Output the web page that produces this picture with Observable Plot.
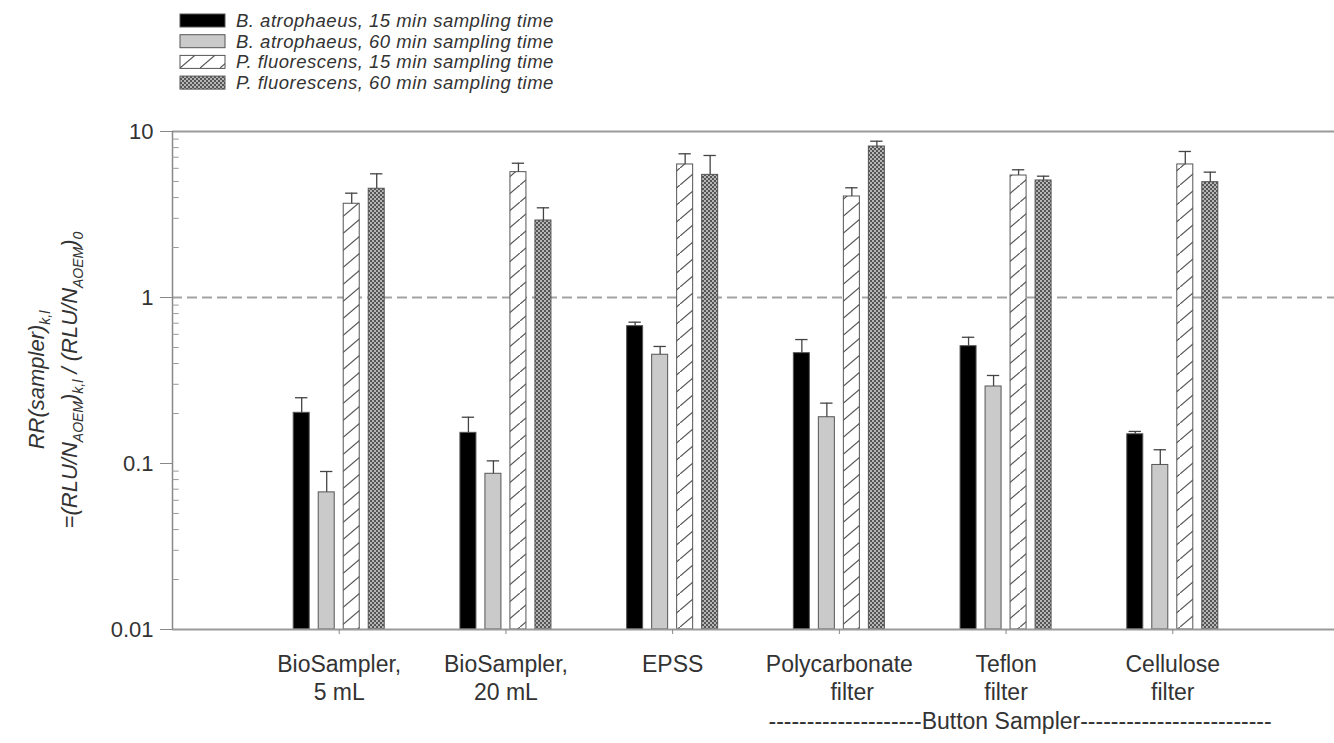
<!DOCTYPE html>
<html>
<head>
<meta charset="utf-8">
<script src="https://cdn.jsdelivr.net/npm/d3@7"></script>
<script src="https://cdn.jsdelivr.net/npm/@observablehq/plot@0.6"></script>
<style>
  body { margin: 0; background: #fff; font-family: "Liberation Sans", Arial, sans-serif; }
  #wrap { position: relative; width: 1334px; height: 743px; overflow: hidden; }
  #legend svg, #chart svg { display: block; }
</style>
</head>
<body>
<svg width="0" height="0" style="position:absolute">
  <defs>
    <pattern id="hatch" patternUnits="userSpaceOnUse" width="20" height="17">
      <rect width="20" height="17" fill="#ffffff"></rect>
      <path d="M-2,18.7 L22,-1.7" stroke="#555" stroke-width="1.2" fill="none"></path>
    </pattern>
    <pattern id="dots" patternUnits="userSpaceOnUse" width="4" height="4">
      <rect width="4" height="4" fill="#555555"></rect>
      <circle cx="1" cy="1" r="0.95" fill="#e0e0e0"></circle>
      <circle cx="3" cy="3" r="0.95" fill="#e0e0e0"></circle>
    </pattern>
  </defs>
</svg>
<div id="wrap">
  <div id="legend"></div>
  <div id="chart"></div>
</div>
<script>
// ---------- data ----------
const groups = ["BioSampler,\n5 mL", "BioSampler,\n20 mL", "EPSS", "Polycarbonate\n\u00a0\u00a0\u00a0\u00a0filter", "Teflon\nfilter", "Cellulose\nfilter"];

const seriesNames = [
  "B. atrophaeus, 15 min sampling time",
  "B. atrophaeus, 60 min sampling time",
  "P. fluorescens, 15 min sampling time",
  "P. fluorescens, 60 min sampling time"
];
const seriesFills = ["#000000", "#cacaca", "url(#hatch)", "url(#dots)"];

const baAt15    = [0.202, 0.153, 0.672, 0.462, 0.509, 0.150];
const baAt15Err = [0.047, 0.037, 0.038, 0.096, 0.067, 0.006];
const baAt60    = [0.067, 0.0867, 0.452, 0.190, 0.291, 0.098];
const baAt60Err = [0.0225, 0.017, 0.055, 0.041, 0.048, 0.023];
const pfl15     = [3.67, 5.69, 6.33, 4.06, 5.43, 6.33];
const pfl15Err  = [0.58, 0.75, 1.01, 0.52, 0.45, 1.25];
const pfl60     = [4.52, 2.91, 5.48, 8.12, 5.07, 4.95];
const pfl60Err  = [1.04, 0.56, 1.69, 0.62, 0.31, 0.74];

const yTicks = [0.01, 0.1, 1, 10];
const yTickLabels = ["0.01", "0.1", "1", "10"];
const refLine = [1];
const groupNote = "--------------------Button Sampler-------------------------";

// ---------- table ----------
const seriesValues = [baAt15, baAt60, pfl15, pfl60];
const seriesErrs = [baAt15Err, baAt60Err, pfl15Err, pfl60Err];
const rows = [];
groups.forEach((g, gi) => {
  seriesNames.forEach((s, si) => {
    rows.push({group: g, gi: gi + 1, series: s, si, value: seriesValues[si][gi], err: seriesErrs[si][gi]});
  });
});
const minorTicks = [];
[0.01, 0.1, 1].forEach(dec => { for (let k = 2; k <= 9; k++) minorTicks.push(+(dec * k).toPrecision(3)); });

// layout (x units = group index)
const pitch = 0.15, half = 0.048, capHalf = 0.037;
const cx = d => d.gi + (d.si - 1.5) * pitch;
const hi = d => d.value + d.err;

const FONT = "Liberation Sans, Arial, Helvetica, sans-serif";

const plot = Plot.plot({
  width: 1334,
  height: 643,
  marginLeft: 172,
  marginRight: 0,
  marginTop: 31,
  marginBottom: 114,
  x: {domain: [0, 6.97]},
  y: {type: "log", domain: [0.01, 10]},
  color: {domain: seriesNames, range: seriesFills},
  style: {fontFamily: FONT, color: "#333", background: "white", overflow: "visible"},
  marks: [
    Plot.ruleY(refLine, {stroke: "#a3a3a3", strokeWidth: 2, strokeDasharray: "10,5"}),
    Plot.rectY(rows, {
      x1: d => cx(d) - half, x2: d => cx(d) + half,
      y1: 0.01, y2: "value",
      fill: "series", stroke: "#555", strokeWidth: 1
    }),
    Plot.ruleX(rows, {x: cx, y1: "value", y2: hi, stroke: "#444", strokeWidth: 1.3}),
    Plot.ruleY(rows, {y: hi, x1: d => cx(d) - capHalf, x2: d => cx(d) + capHalf, stroke: "#444", strokeWidth: 1.3}),
    Plot.ruleY([0.01, 10], {stroke: "#9a9a9a", strokeWidth: 2}),
    Plot.ruleX([0], {y1: 0.01, y2: 10, stroke: "#888", strokeWidth: 1.5}),
    Plot.ruleY(minorTicks, {x1: 0, x2: 0.04, stroke: "#999", strokeWidth: 1}),
    Plot.axisY({
      ticks: yTicks,
      tickFormat: d => yTickLabels[yTicks.indexOf(d)],
      tickSize: 12, tickPadding: 7,
      stroke: "#888", fill: "#333",
      fontSize: 22, label: null
    }),
    Plot.axisX({
      ticks: [1, 2, 3, 4, 5, 6],
      tickFormat: i => groups[i - 1],
      tickSize: 5, tickPadding: 18,
      stroke: "#888", fill: "#333",
      fontSize: 23, lineHeight: 1.2, label: null
    }),
    Plot.text([groupNote], {
      x: 5, y: 0.01, text: d => d, dx: 14, dy: 92,
      fontSize: 23, fill: "#333", textAnchor: "middle"
    })
  ]
});
document.getElementById("chart").appendChild(plot);

// ---------- y-axis title (two rotated lines with subscripts) ----------
const yScale = plot.scale("y");
const yc = (yScale.apply(10) + yScale.apply(0.01)) / 2;
const svg = d3.select(plot);
const yl = svg.append("g")
  .attr("font-family", FONT).attr("font-style", "italic")
  .attr("font-size", 22).attr("fill", "#333").attr("text-anchor", "middle");

function addLine(xPos, parts) {
  const t = yl.append("text").attr("transform", `translate(${xPos},${yc}) rotate(-90)`);
  let shift = 0;
  parts.forEach(([txt, sub]) => {
    const want = sub ? 6 : 0;
    const ts = t.append("tspan").text(txt).attr("dy", want - shift);
    if (sub) ts.attr("font-size", 14);
    shift = want;
  });
}
addLine(44, [["RR(sampler)", false], ["k,l", true]]);
addLine(77, [["=(RLU/N", false], ["AOEM", true], [")", false], ["k,l", true], [" / (RLU/N", false], ["AOEM", true], [")", false], ["0", true]]);

// ---------- legend ----------
const leg = d3.select("#legend").append("svg").attr("width", 1334).attr("height", 100);
seriesNames.forEach((s, i) => {
  const y0 = 14 + i * 20.7;
  leg.append("rect").attr("x", 180).attr("y", y0).attr("width", 45).attr("height", 13)
    .attr("fill", seriesFills[i]).attr("stroke", "#555").attr("stroke-width", 1);
  leg.append("text").attr("x", 236).attr("y", y0 + 13)
    .attr("font-family", FONT).attr("font-style", "italic").attr("font-size", 18.5)
    .attr("letter-spacing", 0.5).attr("fill", "#333").text(s);
});
</script>
</body>
</html>
